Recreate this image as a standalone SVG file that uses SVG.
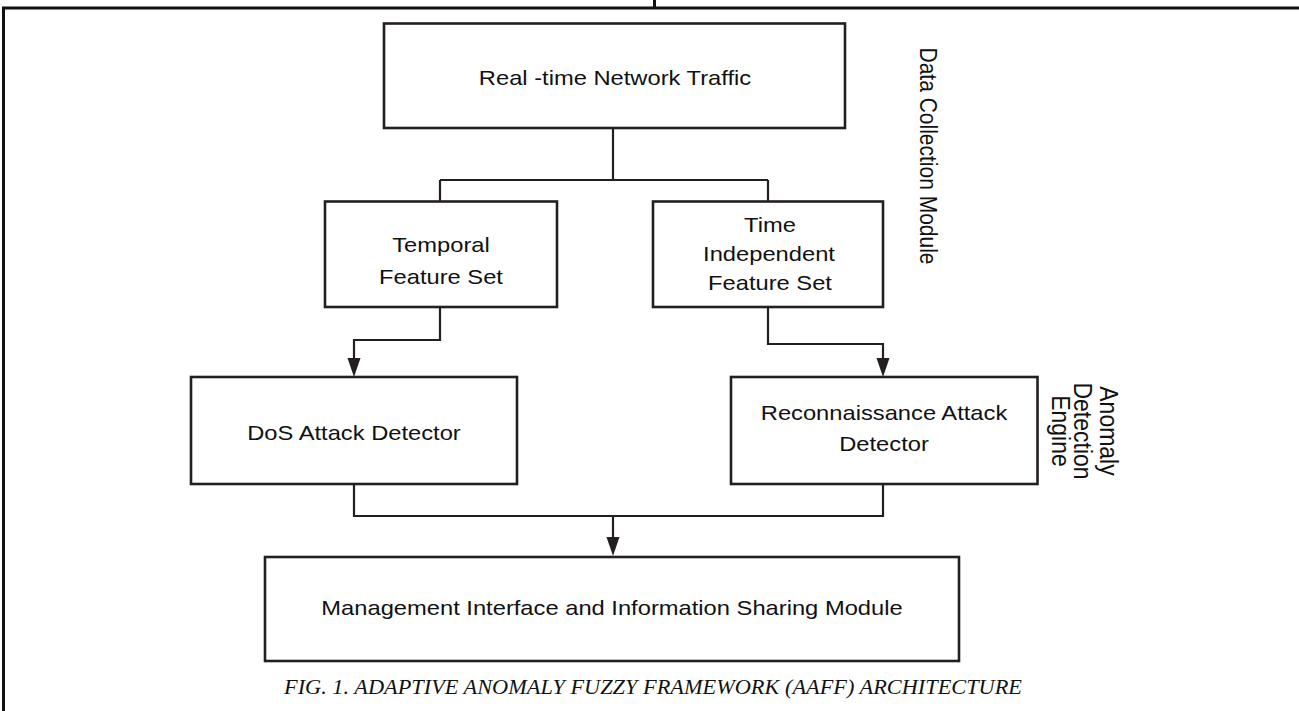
<svg xmlns="http://www.w3.org/2000/svg" width="1299" height="711" viewBox="0 0 1299 711">
<style>
.box{fill:#fff;stroke:#231f20;stroke-width:2.6}
.ln{fill:none;stroke:#231f20;stroke-width:2.2}
.fr{fill:none;stroke:#111;stroke-width:3}
.t{font-family:"Liberation Sans",Arial,sans-serif;font-size:21px;fill:#111;text-anchor:middle}
.cap{font-family:"Liberation Serif","Times New Roman",serif;font-style:italic;font-size:21px;fill:#111;text-anchor:middle}
</style>
<defs>
<marker id="ah" markerUnits="userSpaceOnUse" markerWidth="20" markerHeight="14" refX="0" refY="6.5" orient="auto" overflow="visible">
<path d="M0,0 L19,6.5 L0,13 z" fill="#231f20"/>
</marker>
</defs>
<rect x="0" y="0" width="1299" height="711" fill="#fff"/>
<g id="frame">
<path class="fr" d="M2,8 H1299"/>
<path class="fr" d="M3.5,8 V711" stroke-width="2.6"/>
<path class="fr" d="M654.5,0 V8" stroke-width="2"/>
</g>
<g id="connectors">
<path class="ln" d="M613,128 V180 M440,180 H768 M440,180 V201.5 M768,180 V201.5"/>
<path class="ln" d="M440,307 V340 H354 V358" marker-end="url(#ah)"/>
<path class="ln" d="M768,307 V344 H883 V358" marker-end="url(#ah)"/>
<path class="ln" d="M354,484 V516 H883 V484"/>
<path class="ln" d="M613,516 V537" marker-end="url(#ah)"/>
</g>
<g id="n1">
<rect class="box" x="384" y="23.5" width="461" height="104.5"/>
<text class="t" transform="translate(615,85) scale(1.13,1)">Real -time Network Traffic</text>
</g>
<g id="n2">
<rect class="box" x="325" y="201.5" width="232" height="105.5"/>
<text class="t" transform="translate(441,252) scale(1.13,1)">Temporal</text>
<text class="t" transform="translate(441,284) scale(1.13,1)">Feature Set</text>
</g>
<g id="n3">
<rect class="box" x="653" y="201.5" width="230" height="105.5"/>
<text class="t" transform="translate(770,232) scale(1.13,1)">Time</text>
<text class="t" transform="translate(769,261) scale(1.13,1)">Independent</text>
<text class="t" transform="translate(770,290) scale(1.13,1)">Feature Set</text>
</g>
<g id="n4">
<rect class="box" x="191" y="377" width="326" height="107"/>
<text class="t" transform="translate(354,440) scale(1.13,1)">DoS Attack Detector</text>
</g>
<g id="n5">
<rect class="box" x="731" y="377" width="306.5" height="107"/>
<text class="t" transform="translate(884,420) scale(1.13,1)">Reconnaissance Attack</text>
<text class="t" transform="translate(884,451) scale(1.13,1)">Detector</text>
</g>
<g id="n6">
<rect class="box" x="265" y="557" width="694" height="104"/>
<text class="t" transform="translate(612,615) scale(1.13,1)">Management Interface and Information Sharing Module</text>
</g>
<g id="label-dcm">
<text class="t" transform="translate(920,156) rotate(90) scale(1,1.13)">Data Collection Module</text>
</g>
<g id="label-ade">
<text class="t" style="font-size:23px" transform="translate(1100,431) rotate(90) scale(1,1.13)">Anomaly</text>
<text class="t" style="font-size:23px" transform="translate(1074,431) rotate(90) scale(1,1.13)">Detection</text>
<text class="t" style="font-size:23px" transform="translate(1052,431) rotate(90) scale(1,1.13)">Engine</text>
</g>
<g id="caption">
<text class="cap" x="653" y="694" textLength="738" lengthAdjust="spacingAndGlyphs">FIG. 1. ADAPTIVE ANOMALY FUZZY FRAMEWORK (AAFF) ARCHITECTURE</text>
</g>
</svg>
